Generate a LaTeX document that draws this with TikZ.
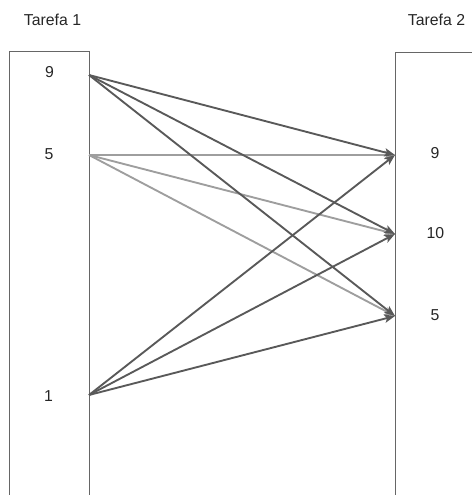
\documentclass[tikz,border=0pt]{standalone}
\usepackage{fontspec}
\setmainfont{Liberation Sans}
\usetikzlibrary{arrows.meta}

\tikzset{
  val/.style={font=\fontsize{13.5}{16}\selectfont, text=black!85},
  link/.style={line width=1.6pt, draw=black!65, -{Stealth[length=9pt,width=7pt,inset=2pt]}},
  linklight/.style={link, draw=black!38},
  column/.style={draw=black!60, line width=0.8pt}
}

\begin{document}
\begin{tikzpicture}[x=0.03cm, y=-0.03cm]
  \useasboundingbox (0,0) rectangle (472,495);
  % the two columns
  \draw[column] (9,495) -- (9,51) -- (89,51) -- (89,495);
  \draw[column] (395,495) -- (395,52) -- (472,52);
  \node[val] (t1) at (52.5,20) {Tarefa 1};
  \node[val] (t2) at (436.5,20) {Tarefa 2};
  % left values
  \node[val] (l9) at (49.5,72) {9};
  \node[val] (l5) at (49,154) {5};
  \node[val] (l1) at (48.5,396) {1};
  \coordinate (a9) at (89,75);
  \coordinate (a5) at (89,155);
  \coordinate (a1) at (89,395);
  % right values
  \node[val] (r9) at (435,153) {9};
  \node[val] (r10) at (435.5,233.5) {10};
  \node[val] (r5) at (435,315) {5};
  \coordinate (b9) at (395,155);
  \coordinate (b10) at (395,234);
  \coordinate (b5) at (395,316);
  % links
  \foreach \t in {b9,b10,b5} \draw[linklight] (a5) -- (\t);
  \foreach \s in {a9,a1}
    \foreach \t in {b9,b10,b5} \draw[link] (\s) -- (\t);
\end{tikzpicture}
\end{document}
